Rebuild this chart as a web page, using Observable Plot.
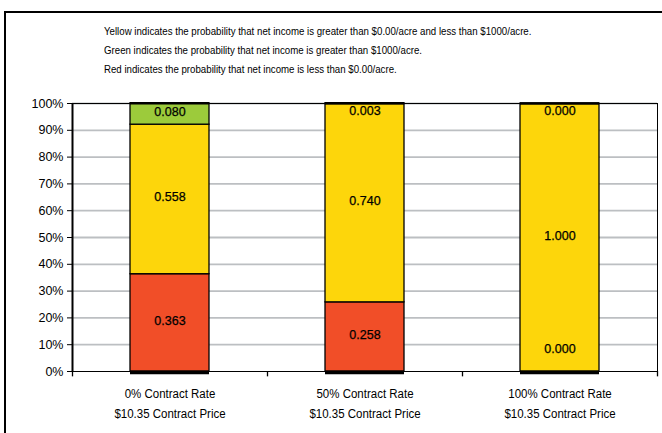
<!DOCTYPE html>
<html><head><meta charset="utf-8">
<script src="https://cdn.jsdelivr.net/npm/d3@7"></script>
<script src="https://cdn.jsdelivr.net/npm/@observablehq/plot@0.6"></script>
<style>
body{margin:0;background:#fff;overflow:hidden;width:662px;height:433px;position:relative;font-family:"Liberation Sans",Arial,sans-serif;}
#frame{position:absolute;left:4px;top:11px;width:720px;height:520px;border:2px solid #000;box-sizing:border-box;}
#notes{position:absolute;left:104px;top:22px;font-size:11px;line-height:19px;color:#000;white-space:nowrap;transform:scaleX(0.88);transform-origin:0 0;}
#chart{position:absolute;left:0;top:90px;}
</style></head><body>
<div id="frame"></div>
<div id="notes"></div>
<div id="chart"></div>
<script>
const categories = ["0% Contract Rate\n$10.35 Contract Price", "50% Contract Rate\n$10.35 Contract Price", "100% Contract Rate\n$10.35 Contract Price"];
const red = [0.363, 0.258, 0.000];
const yellow = [0.558, 0.740, 1.000];
const green = [0.080, 0.003, 0.000];
const seriesNames = ["net income < $0", "$0 – $1000", "net income > $1000"];
const seriesColors = ["#f14e28", "#fdd60b", "#9ccb3b"];
const yTicks = [0, 0.1, 0.2, 0.3, 0.4, 0.5, 0.6, 0.7, 0.8, 0.9, 1.0];
const notes = [
  "Yellow indicates the probability that net income is greater than $0.00/acre and less than $1000/acre.",
  "Green indicates the probability that net income is greater than $1000/acre.",
  "Red indicates the probability that net income is less than $0.00/acre."
];

document.getElementById("notes").innerHTML = notes.map(t => `<div>${t}</div>`).join("");

const seriesValues = [red, yellow, green];
const data = [];
categories.forEach((c, i) => {
  let base = 0;
  seriesValues.forEach((vals, s) => {
    const v = vals[i];
    data.push({category: c, series: seriesNames[s], color: seriesColors[s], value: v, y1: base, y2: base + v});
    base += v;
  });
});
const totals = categories.map((c, i) => ({category: c, total: red[i] + yellow[i] + green[i]}));
const labelY = d => Math.min(0.965, Math.max(0.075, (d.y1 + d.y2) / 2));

const W = 662, H = 343, mL = 72, mR = 5, mT = 13, mB = 62;
const step = (W - mL - mR) / categories.length;

const plot = Plot.plot({
  width: W, height: H,
  marginLeft: mL, marginRight: mR, marginTop: mT, marginBottom: mB,
  style: {fontFamily: '"Liberation Sans",Arial,sans-serif', fontSize: "12px", color: "#000", background: "transparent", overflow: "visible"},
  x: {type: "band", domain: categories, paddingInner: 0.596, paddingOuter: 0.298, label: null},
  y: {domain: [0, 1], label: null},
  marks: [
    Plot.ruleY(yTicks.slice(1), {y: d => d, stroke: "#bcbfc2", strokeWidth: 1.8}),
    Plot.rectY(data, {x: "category", y1: "y1", y2: "y2", fill: d => d.color, stroke: "#000", strokeWidth: 1.3, title: "series"}),
    Plot.tickY(totals, {x: "category", y: 0, stroke: "#000", strokeWidth: 3.5, dy: 1}),
    Plot.tickY(totals, {x: "category", y: "total", stroke: "#000", strokeWidth: 2.5}),
    Plot.text(data, {x: "category", y: labelY, text: d => d.value.toFixed(3), fill: "#000", fontSize: 12.5, dy: -2, stroke: "#000", strokeWidth: 0.25}),
    Plot.frame({stroke: "#000", strokeWidth: 1}),
    Plot.ruleX(categories, {x: d => d, dx: -step / 2, y1: 0, y2: -0.02, stroke: "#000", strokeWidth: 1.3}),
    Plot.ruleX(categories.slice(-1), {x: d => d, dx: step / 2, y1: 0, y2: -0.02, stroke: "#000", strokeWidth: 1.3}),
    Plot.ruleX(categories.slice(0, 1), {x: d => d, dx: -step / 2, y1: 0, y2: 1, stroke: "#000", strokeWidth: 2}),
    Plot.axisY({ticks: yTicks, tickFormat: d3.format(".0%"), tickSize: 5, tickPadding: 4, fontSize: 12.5, stroke: "#000"}),
    Plot.axisX({tickSize: 0, tickPadding: 12, fontSize: 12.5, lineHeight: 1.6})
  ]
});
// condense the category labels slightly, like the narrow face of the original
d3.select(plot).selectAll('g[aria-label="x-axis tick label"] text').each(function() {
  const t = this.getAttribute("transform") || "";
  this.setAttribute("transform", t + " scale(0.92,1)");
});
document.getElementById("chart").appendChild(plot);
</script>
</body></html>
